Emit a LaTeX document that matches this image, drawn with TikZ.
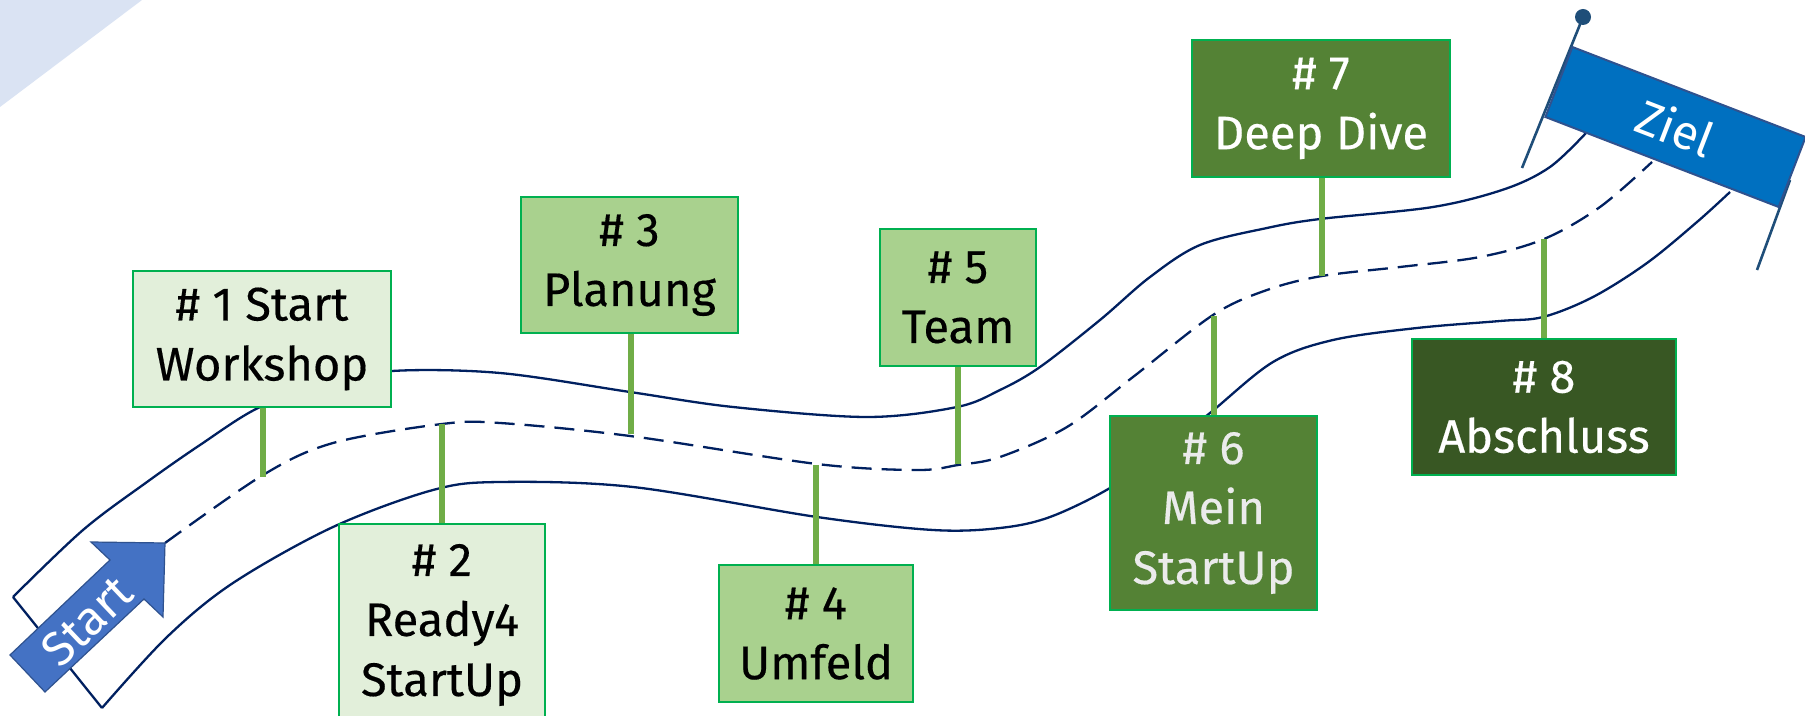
\documentclass[tikz,border=0pt]{standalone}
\usepackage{fontspec}
\setmainfont{Fira Sans}
\newfontfamily\tafelschrift{Fira Sans}[FakeBold=0.35]
\begin{document}
\begin{tikzpicture}[x=0.5pt, y=-0.5pt,
  tafel/.style={draw=tafelrand, line width=1pt, align=center, inner sep=0pt, font=\tafelschrift\fontsize{23.5}{30}\selectfont},
  hell/.style={tafel, fill=hell},
  mittel/.style={tafel, fill=mittel},
  dunkel/.style={tafel, fill=dunkel, text=white},
  sehrdunkel/.style={tafel, fill=sehrdunkel, text=white},
  pfosten/.style={draw=pfostengruen, line width=2.8pt},
  rand/.style={draw=strasse, line width=1.15pt},
  mitte/.style={rand, dash pattern=on 10pt off 5pt},
  pfahl/.style={draw=pfahlblau, line width=1.3pt}]
\definecolor{hintergrund}{HTML}{DAE3F3}
\definecolor{strasse}{HTML}{002060}
\definecolor{tafelrand}{HTML}{00B050}
\definecolor{pfostengruen}{HTML}{70AD47}
\definecolor{hell}{HTML}{E2EFDA}
\definecolor{mittel}{HTML}{A9D18E}
\definecolor{dunkel}{HTML}{548235}
\definecolor{sehrdunkel}{HTML}{385723}
\definecolor{startblau}{HTML}{4472C4}
\definecolor{zielblau}{HTML}{0070C0}
\definecolor{blaurand}{HTML}{2F528F}
\definecolor{pfahlblau}{HTML}{1F4E79}
\useasboundingbox (0,0) rectangle (1805,716);
\fill[white] (0,0) rectangle (1805,716);
\fill[hintergrund] (0,0) -- (142,0) -- (0,107) -- cycle;

% Strasse
\draw[rand] plot[smooth, tension=0.55] coordinates {(13,597) (83,530) (147,482) (200,445) (258,408) (325,384) (392,371) (500,373) (630,392) (733,407) (867,417) (957,407) (1000,390) (1040,367) (1100,320) (1150,277) (1200,245) (1267,228) (1320,219) (1433,207) (1505,189) (1550,167) (1586,133)};
\draw[mitte] plot[smooth, tension=0.55] coordinates {(165,543) (263,475) (333,443) (442,424) (500,423) (630,436) (817,464) (917,470) (958,465) (1000,457) (1067,427) (1133,377) (1213,315) (1267,290) (1322,276) (1400,267) (1480,257) (1544,239) (1600,207) (1652,162)};
\draw[rand] plot[smooth, tension=0.55] coordinates {(102,708) (167,637) (233,583) (333,527) (433,490) (500,482) (633,487) (817,517) (933,530) (1000,528) (1050,517) (1110,488) (1160,452) (1210,413) (1273,362) (1333,340) (1417,328) (1500,321) (1543,317) (1593,297) (1647,263) (1697,222) (1730,192)};
\draw[rand] (13,597) -- (102,708);

% Stationen
\coordinate (r1) at (263,477);
\coordinate (r2) at (442,424);
\coordinate (r3) at (631,434);
\coordinate (r4) at (816,465);
\coordinate (r5) at (958,464);
\coordinate (r6) at (1214,316);
\coordinate (r7) at (1322,276);
\coordinate (r8) at (1544,239);
\draw[pfosten] (r1) -- (263,339);
\draw[pfosten] (r2) -- (442,625);
\draw[pfosten] (r3) -- (631,265);
\draw[pfosten] (r4) -- (816,633);
\draw[pfosten] (r5) -- (958,297);
\draw[pfosten] (r6) -- (1214,513);
\draw[pfosten] (r7) -- (1322,108);
\draw[pfosten] (r8) -- (1544,407);
\node[hell, minimum width=129pt, minimum height=68pt] (s1) at (262,339) {\# 1 Start\\Workshop};
\node[hell, minimum width=103pt, minimum height=101pt] (s2) at (442,625) {\# 2\\Ready4\\StartUp};
\node[mittel, minimum width=108.5pt, minimum height=68pt] (s3) at (629.5,265) {\# 3\\Planung};
\node[mittel, minimum width=97pt, minimum height=68.5pt] (s4) at (816,633.5) {\# 4\\Umfeld};
\node[mittel, minimum width=78pt, minimum height=68.5pt] (s5) at (958,297.5) {\# 5\\Team};
\node[dunkel, text=black!8, minimum width=103.5pt, minimum height=97pt] (s6) at (1213.5,513) {\# 6\\Mein\\StartUp};
\node[dunkel, minimum width=129pt, minimum height=68.5pt] (s7) at (1321,108.5) {\# 7\\Deep Dive};
\node[sehrdunkel, minimum width=132pt, minimum height=68pt] (s8) at (1544,407) {\# 8\\Abschluss};

% Start und Ziel
\filldraw[fill=startblau, draw=blaurand, line width=0.6pt] (10,655) -- (110,560) -- (91,542) -- (165,543) -- (163,617) -- (144,599) -- (45,692) -- cycle;
\node[rotate=43.5, text=white, inner sep=0pt, font=\fontsize{24}{24}\selectfont] (start) at (87,621) {Start};
\draw[pfahl] (1583,17) -- (1522,168);
\draw[pfahl] (1790,180) -- (1757,270);
\node[rotate=-21.1, fill=zielblau, draw=blaurand, line width=1pt, minimum width=125pt, minimum height=37.5pt, inner sep=0pt, text=white, font=\fontsize{24}{24}\selectfont] (ziel) at (1675.5,127) {Ziel};
\fill[pfahlblau] (1583,17) circle (4pt);
\end{tikzpicture}
\end{document}
